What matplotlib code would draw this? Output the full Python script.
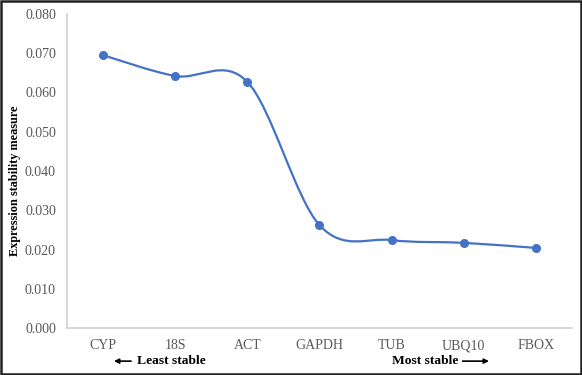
import numpy as np
import matplotlib
matplotlib.use("Agg")
import matplotlib.pyplot as plt
from matplotlib.path import Path
from matplotlib.patches import PathPatch, Rectangle, FancyArrowPatch

# data
genes = ["CYP", "18S", "ACT", "GAPDH", "TUB", "UBQ10", "FBOX"]
stability = [0.0695, 0.0642, 0.0627, 0.0262, 0.0224, 0.0217, 0.0204]
yticks = [0.000, 0.010, 0.020, 0.030, 0.040, 0.050, 0.060, 0.070, 0.080]

plt.rcParams['font.family'] = ['Liberation Serif', 'DejaVu Serif']

fig = plt.figure(figsize=(5.82, 3.75), dpi=100)
ax = fig.add_axes([0.1151, 0.1253, 0.8677, 0.8374])

x = np.arange(len(genes))
y = np.array(stability)

# smoothed line like Excel: catmull-rom segments drawn as cubic bezier
pts = np.column_stack([x, y])
verts = [pts[0]]
codes = [Path.MOVETO]
n = len(pts)
for i in range(n - 1):
    p0 = pts[i - 1] if i > 0 else pts[i]
    p1 = pts[i]
    p2 = pts[i + 1]
    p3 = pts[i + 2] if i + 2 < n else pts[i + 1]
    c1 = p1 + (p2 - p0) / 6.0
    c2 = p2 - (p3 - p1) / 6.0
    verts += [c1, c2, p2]
    codes += [Path.CURVE4] * 3
curve = PathPatch(Path(verts, codes), facecolor='none', edgecolor='#4472C4',
                  lw=1.6, transform=ax.transData)
ax.add_patch(curve)
ax.plot(x, y, 'o', color='#4472C4', markersize=5.5, zorder=3)

ax.set_xlim(-0.5, len(genes) - 0.5)
ax.set_ylim(0, 0.080)
ax.set_yticks(yticks)
ax.set_yticklabels(["%.3f" % t for t in yticks])
ax.set_xticks(x)
ax.set_xticklabels(genes)
ax.tick_params(length=0, colors='#595959', labelsize=10)
ax.tick_params(axis='y', pad=8)
ax.tick_params(axis='x', pad=8)

for s in ['top', 'right']:
    ax.spines[s].set_visible(False)
for s in ['left', 'bottom']:
    ax.spines[s].set_color('#d0d0d0')
    ax.spines[s].set_linewidth(1.2)

fig.text(0.026, 0.517, "Expression stability measure", rotation=90,
         ha='center', va='center', fontsize=8.8, fontweight='bold')

# least / most stable annotations
fig.text(0.294, 0.037, "Least stable", ha='center', va='center',
         fontsize=9.7, fontweight='bold')
fig.text(0.730, 0.037, "Most stable", ha='center', va='center',
         fontsize=9.7, fontweight='bold')
fig.patches.append(FancyArrowPatch(
    (0.230, 0.037), (0.191, 0.037), transform=fig.transFigure,
    arrowstyle='-|>', mutation_scale=7, color='black', lw=1.2))
fig.patches.append(FancyArrowPatch(
    (0.790, 0.037), (0.845, 0.037), transform=fig.transFigure,
    arrowstyle='-|>', mutation_scale=7, color='black', lw=1.2))

# outer border
fig.patches.append(Rectangle((0.002, 0.003), 0.996, 0.994, transform=fig.transFigure,
                             fill=False, edgecolor='#222222', lw=1.8))

fig.savefig("out.png", dpi=100)
